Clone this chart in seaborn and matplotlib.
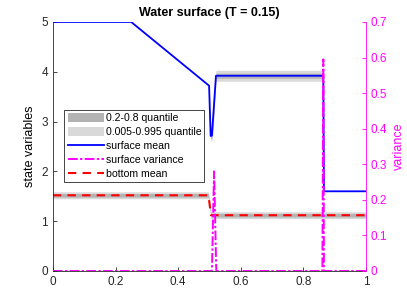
import numpy as np
import pandas as pd
import seaborn as sns
import matplotlib
matplotlib.use("Agg")
import matplotlib.pyplot as plt
from matplotlib.patches import Patch
from matplotlib.lines import Line2D

# surface mean (breakpoints)
surf_x = [0.0, 0.25, 0.499, 0.504, 0.508, 0.521, 0.864, 0.866, 1.0]
surf_y = [5.0, 5.0, 3.72, 2.71, 2.72, 3.92, 3.92, 1.6, 1.6]
# quantile half-widths around the surface mean
surf_band_x = [0.0, 0.499, 0.504, 0.508, 0.512, 0.521, 0.864, 0.866, 1.0]
surf_q_inner = [0.0, 0.0, 0.04, 0.05, 0.1, 0.05, 0.05, 0.0, 0.0]
surf_q_outer = [0.0, 0.0, 0.08, 0.12, 0.3, 0.11, 0.11, 0.0, 0.0]

# bottom mean
bot_x = [0.0, 0.497, 0.505, 1.0]
bot_y = [1.52, 1.52, 1.12, 1.12]
bot_q_inner = [0.035, 0.035, 0.035, 0.035]
bot_q_outer = [0.07, 0.07, 0.07, 0.07]

# surface variance
var_x = [0.0, 0.508, 0.515, 0.522, 0.861, 0.864, 0.866, 0.868, 1.0]
var_y = [0.0, 0.0, 0.28, 0.0, 0.0, 0.595, 0.0, 0.0, 0.0]

plt.rcParams["font.family"] = ["Liberation Sans", "DejaVu Sans"]
plt.rcParams["font.size"] = 8.5

fig = plt.figure(figsize=(4.07, 3.05), dpi=100)
ax = fig.add_axes([0.130, 0.1115, 0.769, 0.8165])

sx = np.array(surf_band_x)
sm = np.interp(sx, surf_x, surf_y)
ax.fill_between(sx, sm - np.array(surf_q_outer), sm + np.array(surf_q_outer),
                color="#d9d9d9", lw=0)
ax.fill_between(sx, sm - np.array(surf_q_inner), sm + np.array(surf_q_inner),
                color="#b3b3b3", lw=0)
bx = np.array(bot_x)
by = np.array(bot_y)
ax.fill_between(bx, by - np.array(bot_q_outer), by + np.array(bot_q_outer),
                color="#d9d9d9", lw=0)
ax.fill_between(bx, by - np.array(bot_q_inner), by + np.array(bot_q_inner),
                color="#b3b3b3", lw=0)

surf = pd.DataFrame({"x": surf_x, "y": surf_y})
bot = pd.DataFrame({"x": bot_x, "y": bot_y})
sns.lineplot(data=surf, x="x", y="y", ax=ax, color="blue", lw=1.3,
             sort=False, estimator=None)
sns.lineplot(data=bot, x="x", y="y", ax=ax, color="red", lw=1.5,
             dashes=False, linestyle=(0, (4, 3)), sort=False, estimator=None)

ax.set_xlim(0, 1)
ax.set_ylim(0, 5)
ax.set_xticks([0, 0.2, 0.4, 0.6, 0.8, 1])
ax.set_xticklabels(["0", "0.2", "0.4", "0.6", "0.8", "1"])
ax.set_yticks([0, 1, 2, 3, 4, 5])
ax.set_xlabel("")
ax.set_ylabel("state variables", fontsize=9)
ax.set_title("Water surface (T = 0.15)", fontsize=9, fontweight="bold", pad=4)
ax.tick_params(direction="in", length=3, width=0.6, colors="#262626")
ax.spines["top"].set_visible(False)
ax.spines["right"].set_visible(False)
for s in ["left", "bottom"]:
    ax.spines[s].set_color("#262626")
    ax.spines[s].set_linewidth(0.6)

ax2 = ax.twinx()
var = pd.DataFrame({"x": var_x, "y": var_y})
sns.lineplot(data=var, x="x", y="y", ax=ax2, color="magenta", lw=1.4,
             linestyle=(0, (5, 1.2, 1.2, 1.2)), sort=False, estimator=None)
ax2.set_ylim(0, 0.7)
ax2.set_yticks(np.arange(0, 0.71, 0.1))
ax2.set_yticklabels(["0", "0.1", "0.2", "0.3", "0.4", "0.5", "0.6", "0.7"])
ax2.set_ylabel("variance", color="magenta", fontsize=9)
ax2.tick_params(direction="in", length=3, width=0.6, colors="magenta")
for s in ["top", "left", "bottom"]:
    ax2.spines[s].set_visible(False)
ax2.spines["right"].set_color("magenta")
ax2.spines["right"].set_linewidth(0.6)
ax2.set_xlim(0, 1)

handles = [
    Patch(facecolor="#b3b3b3", edgecolor="none", label="0.2-0.8 quantile"),
    Patch(facecolor="#d9d9d9", edgecolor="none", label="0.005-0.995 quantile"),
    Line2D([], [], color="blue", lw=1.3, label="surface mean"),
    Line2D([], [], color="magenta", lw=1.4, linestyle=(0, (5, 1.2, 1.2, 1.2)),
           label="surface variance"),
    Line2D([], [], color="red", lw=1.5, linestyle=(0, (4, 3)), label="bottom mean"),
]
leg = ax2.legend(handles=handles, loc="lower left", bbox_to_anchor=(0.037, 0.357),
                 fontsize=7.6, frameon=True, fancybox=False, framealpha=1,
                 borderpad=0.3, labelspacing=0.38, handlelength=3.4,
                 handleheight=0.9, handletextpad=0.2, borderaxespad=0)
leg.get_frame().set_edgecolor("#262626")
leg.get_frame().set_linewidth(0.6)

fig.savefig("out.png", dpi=100)
